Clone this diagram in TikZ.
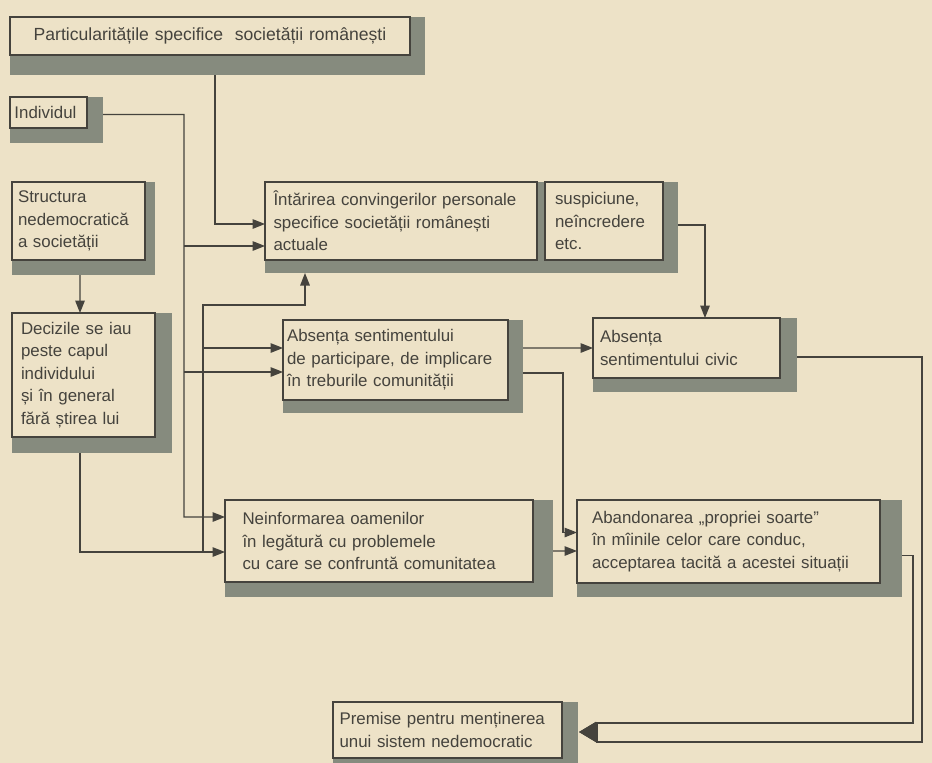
\documentclass[tikz,border=0pt]{standalone}
\usepackage{fontspec}
\setmainfont{Liberation Sans}
\usepackage{tikz}
\usetikzlibrary{calc,arrows.meta,backgrounds}
\hyphenpenalty=10000
\exhyphenpenalty=10000
\definecolor{paper}{HTML}{EDE2C7}
\definecolor{ink}{HTML}{45433D}
\definecolor{shadowgray}{HTML}{868B7E}
\tikzset{>={Triangle[length=2.5mm,width=1.9mm]}}
\tikzset{
  box/.style={draw=ink, line width=1.1pt, fill=paper, anchor=north west, align=left,
    inner ysep=0pt, outer sep=0pt, text=ink, font=\fontsize{9.6}{12.8}\selectfont},
  link/.style={draw=ink, line width=0.8pt},
}

\begin{document}
\begin{tikzpicture}[x=0.2mm, y=-0.2mm]
    \useasboundingbox (0,0) rectangle (932,763);
    \node[box, align=center, text width=76mm, inner xsep=2mm, minimum height=7.6mm,
      font=\fontsize{10}{12.8}\selectfont] (part) at (10,17)
      {Particularitățile specifice~ societății românești};
    \node[box, text width=13.6mm, inner xsep=0.9mm, minimum height=6.2mm] (indiv) at (10,97) {Individul};
    \node[box, text width=24.2mm, inner xsep=1.2mm, minimum height=15.6mm] (struct) at (12,182)
      {Structura\\nedemocratică\\a societății};
    \node[box, text width=51mm, inner xsep=1.7mm, minimum height=15.6mm] (intar) at (265,182)
      {Întărirea convingerilor personale\\specifice societății românești\\actuale};
    \node[box, text width=19.6mm, inner xsep=2mm, minimum height=15.6mm] (susp) at (545,182)
      {suspiciune,\\neîncredere\\etc.};
    \node[box, text width=25mm, inner xsep=1.8mm, minimum height=24.8mm] (deciz) at (12,313)
      {Decizile se iau\\peste capul\\individului\\și în general\\fără știrea lui};
    \node[box, text width=43.4mm, inner xsep=0.8mm, minimum height=16mm] (abspart) at (283,320)
      {Absența sentimentului\\de participare, de implicare\\în treburile comunității};
    \node[box, text width=34.6mm, inner xsep=1.4mm, minimum height=12mm] (abscivic) at (593,318)
      {Absența\\sentimentului civic};
    \node[box, text width=54.6mm, inner xsep=3.5mm, minimum height=16.4mm] (neinf) at (225,500)
      {Neinformarea oamenilor\\în legătură cu problemele\\cu care se confruntă comunitatea};
    \node[box, text width=54.6mm, inner xsep=3mm, minimum height=16.6mm] (aband) at (577,500)
      {Abandonarea „propriei soarte”\\în mîinile celor care conduc,\\acceptarea tacită a acestei situații};
    \node[box, text width=43.2mm, inner xsep=1.3mm, minimum height=11.2mm] (premise) at (333,702)
      {Premise pentru menținerea\\unui sistem nedemocratic};

    \coordinate (trunkA) at (184,114.5);
    \coordinate (trunkB) at (203,552);

    \draw[link,->] ($(part.south west)+(205,20)$) |- ($(intar.west)+(0,3)$);
    \draw[link,->] ($(indiv.east)+(16,2)$) -- (trunkA) |- (neinf.west |- 0,517);
    \draw[link,->] (trunkA |- 0,246) -- (intar.west |- 0,246);
    \draw[link,->] (trunkA |- 0,372) -- (abspart.west |- 0,372);
    \draw[link,->] ($(struct.south)+(1.5,15)$) -- ($(deciz.north west)+(68,0)$);
    \draw[link,->] ($(deciz.south west)+(68,16)$) |- (neinf.west |- 0,552);
    \draw[link,->] (trunkB) |- ($(intar.south west)+(40,45)$) -- ($(intar.south west)+(40,13)$);
    \draw[link,->] (trunkB |- 0,348) -- (abspart.west |- 0,348);
    \draw[link,->] ($(susp.east)+(15,4)$) -| ($(abscivic.north west)+(112,0)$);
    \draw[link,->] ($(abspart.east)+(15,-12)$) -- (abscivic.west);
    \draw[link,->] ($(abspart.east)+(15,13)$) -- ++(40,0) |- ($(aband.west)+(0,-9)$);
    \draw[link,->] ($(neinf.east)+(20,10)$) -- ($(aband.west)+(0,9.5)$);
    \draw[link,-{Triangle[length=3.4mm,width=4mm]}] ($(abscivic.east)+(17,9)$) -| (922,742) -- (597,742)
      |- ($(premise.east)+(17,2)$);
    \draw[link,-{Triangle[length=3.4mm,width=4mm]}] ($(aband.east)+(22,14)$) -| (913,723) -- (597,723)
      |- ($(premise.east)+(17,2)$);

    \begin{scope}[on background layer]
      \fill[paper] (0,0) rectangle (932,763);
      \fill[shadowgray] (intar.north west) rectangle ($(susp.south east)+(15,13)$);
      \foreach \b/\dx/\dy in {part/15/20, indiv/16/15, struct/10/15, deciz/17/16, abspart/15/13,
          abscivic/17/14, neinf/20/15, aband/22/14, premise/16/10}
        \fill[shadowgray] (\b.north west) rectangle ($(\b.south east)+(\dx,\dy)$);
    \end{scope}
  \end{tikzpicture}
\end{document}
